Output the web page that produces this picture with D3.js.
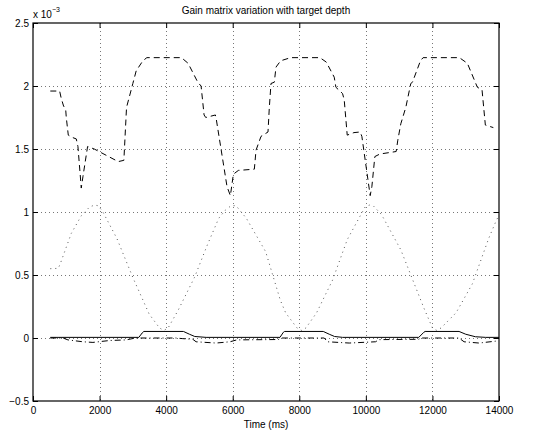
<!DOCTYPE html>
<html>
<head>
<meta charset="utf-8">
<script src="https://cdn.jsdelivr.net/npm/d3@7"></script>
<style>
  body { margin: 0; background: #fff; }
  text { font-family: "Liberation Sans", Arial, Helvetica, sans-serif; font-size: 10px; fill: #000; }
</style>
</head>
<body>
<div id="chart"></div>
<script>
// gain matrix variation - four gain terms vs time (values in units of 1e-3)

const width = 538;
const height = 436;
const margin = { top: 23, right: 39, bottom: 35, left: 33 };

const titleText = "Gain matrix variation with target depth";
const xLabelText = "Time (ms)";

const xTicks = [0, 2000, 4000, 6000, 8000, 10000, 12000, 14000];
const xTickLabels = ["0", "2000", "4000", "6000", "8000", "10000", "12000", "14000"];
const yTicks = [-0.5, 0, 0.5, 1, 1.5, 2, 2.5];
const yTickLabels = ["\u22120.5", "0", "0.5", "1", "1.5", "2", "2.5"];

// dashed curve
const dashedT = [520, 800, 850, 920, 980, 1000, 1060, 1200, 1300, 1350, 1450, 1500, 1640, 1840, 2200, 2560, 2730, 2810, 3000, 3100, 3300, 3420, 4460, 4660, 4950, 5050, 5140, 5190, 5480, 5510, 5830, 5930, 6020, 6170, 6650, 6700, 6850, 7060, 7100, 7150, 7250, 7300, 7440, 7740, 8620, 8810, 9050, 9100, 9300, 9350, 9440, 9640, 9830, 9880, 10130, 10180, 10270, 10420, 10910, 10960, 11050, 11200, 11350, 11400, 11640, 11720, 12810, 13050, 13350, 13490, 13590, 13830];
const dashedV = [1.96, 1.96, 1.90, 1.84, 1.82, 1.75, 1.61, 1.59, 1.58, 1.52, 1.19, 1.28, 1.52, 1.50, 1.45, 1.40, 1.41, 1.83, 2.02, 2.12, 2.20, 2.225, 2.225, 2.18, 2.03, 2.0, 1.77, 1.75, 1.77, 1.73, 1.20, 1.13, 1.30, 1.33, 1.34, 1.49, 1.60, 1.635, 1.83, 2.02, 2.03, 2.15, 2.20, 2.225, 2.225, 2.19, 2.07, 1.99, 1.94, 1.89, 1.61, 1.63, 1.635, 1.60, 1.13, 1.20, 1.44, 1.46, 1.48, 1.57, 1.70, 1.83, 2.02, 2.03, 2.20, 2.225, 2.225, 2.18, 1.99, 1.97, 1.69, 1.67];

// dotted curve
const dottedT = [520, 760, 820, 1150, 1450, 1700, 1850, 1950, 2080, 2520, 3000, 3490, 3800, 3930, 4060, 4360, 4850, 5240, 5580, 5780, 5950, 6100, 6410, 6990, 7430, 7590, 7930, 8070, 8200, 8520, 9000, 9440, 9790, 9980, 10100, 10220, 10470, 11050, 11740, 12000, 12130, 12260, 12710, 13200, 13690, 13930, 14000];
const dottedV = [0.55, 0.553, 0.59, 0.83, 0.97, 1.04, 1.055, 1.05, 1.01, 0.79, 0.48, 0.19, 0.08, 0.06, 0.08, 0.22, 0.48, 0.74, 0.95, 1.015, 1.05, 1.05, 0.95, 0.685, 0.30, 0.20, 0.08, 0.06, 0.08, 0.20, 0.46, 0.78, 0.95, 1.04, 1.055, 1.05, 0.98, 0.70, 0.24, 0.08, 0.06, 0.08, 0.20, 0.43, 0.79, 0.94, 0.97];

// solid curve
const solidT = [520, 3180, 3280, 3330, 4520, 4700, 4860, 5200, 7420, 7520, 7560, 8720, 8900, 9060, 9300, 11590, 11740, 11780, 12800, 13000, 13290, 13600, 14000];
const solidV = [0.005, 0.005, 0.04, 0.052, 0.052, 0.03, 0.012, 0.005, 0.005, 0.045, 0.052, 0.052, 0.03, 0.012, 0.005, 0.005, 0.045, 0.052, 0.052, 0.03, 0.01, 0.005, 0.005];

// dash-dot curve
const dashDotT = [520, 900, 1050, 1500, 1800, 2300, 2800, 3080, 4280, 4500, 4800, 4900, 5500, 5920, 6120, 7370, 7450, 8750, 8850, 9500, 10290, 10400, 11590, 11650, 12800, 12950, 13400, 13900];
const dashDotV = [0, 0, -0.015, -0.03, -0.035, -0.02, -0.015, 0, 0, -0.005, -0.01, -0.03, -0.04, -0.03, -0.015, -0.012, 0, 0, -0.03, -0.04, -0.03, -0.013, -0.01, 0, 0, -0.03, -0.04, -0.025];

const series = [
    { t: dashedT, v: dashedV, dash: "6,4", color: "#000", w: 1 },
    { t: dottedT, v: dottedV, dash: "1,4", color: "#555", w: 1 },
    { t: solidT, v: solidV, dash: null, color: "#000", w: 1 },
    { t: dashDotT, v: dashDotV, dash: "6,3,1,3", color: "#000", w: 1 }
];

const svg = d3.select("#chart")
    .append("svg")
    .attr("width", width)
    .attr("height", height);

const x = d3.scaleLinear()
    .domain([0, 14000])
    .range([margin.left, width - margin.right]);

const y = d3.scaleLinear()
    .domain([-0.5, 2.5])
    .range([height - margin.bottom, margin.top]);

// grid
const gGrid = svg.append("g").attr("class", "grid");
gGrid.selectAll(".vgrid")
    .data(xTicks.slice(1, -1))
    .enter()
    .append("line")
    .attr("x1", d => Math.round(x(d)) + 0.5)
    .attr("x2", d => Math.round(x(d)) + 0.5)
    .attr("y1", y(2.5))
    .attr("y2", y(-0.5))
    .attr("stroke", "#777")
    .attr("stroke-dasharray", "1,3");
gGrid.selectAll(".hgrid")
    .data(yTicks.slice(1, -1))
    .enter()
    .append("line")
    .attr("x1", x(0))
    .attr("x2", x(14000))
    .attr("y1", d => Math.round(y(d)) + 0.5)
    .attr("y2", d => Math.round(y(d)) + 0.5)
    .attr("stroke", "#777")
    .attr("stroke-dasharray", "1,3");

// curves
const line = d3.line()
    .x(d => x(d[0]))
    .y(d => y(d[1]));

svg.append("g").attr("class", "curves")
    .selectAll("path")
    .data(series)
    .enter()
    .append("path")
    .attr("d", s => line(s.t.map((t, i) => [t, s.v[i]])))
    .attr("fill", "none")
    .attr("stroke", s => s.color)
    .attr("stroke-width", s => s.w)
    .attr("stroke-dasharray", s => s.dash);

// axes with inward ticks
const xFmt = (d, i) => xTickLabels[i];
const yFmt = (d, i) => yTickLabels[i];

const gx = svg.append("g")
    .attr("transform", `translate(0,${y(-0.5)})`)
    .call(d3.axisBottom(x).tickValues(xTicks).tickFormat(xFmt).tickSizeInner(-5).tickSizeOuter(0).tickPadding(6));
const gxTop = svg.append("g")
    .attr("transform", `translate(0,${y(2.5)})`)
    .call(d3.axisTop(x).tickValues(xTicks).tickFormat("").tickSizeInner(-5).tickSizeOuter(0));
const gy = svg.append("g")
    .attr("transform", `translate(${x(0)},0)`)
    .call(d3.axisLeft(y).tickValues(yTicks).tickFormat(yFmt).tickSizeInner(-5).tickSizeOuter(0).tickPadding(4));
const gyRight = svg.append("g")
    .attr("transform", `translate(${x(14000)},0)`)
    .call(d3.axisRight(y).tickValues(yTicks).tickFormat("").tickSizeInner(-5).tickSizeOuter(0));

[gx, gxTop, gy, gyRight].forEach(g => {
    g.select(".domain").remove();
    g.selectAll("line").attr("stroke", "#000");
    g.selectAll("text").attr("font-size", 10).attr("font-family", null);
});

// frame
svg.append("rect")
    .attr("x", x(0))
    .attr("y", y(2.5))
    .attr("width", x(14000) - x(0))
    .attr("height", y(-0.5) - y(2.5))
    .attr("fill", "none")
    .attr("stroke", "#000")
    .attr("stroke-width", 1.2);

// texts
svg.append("text")
    .attr("x", (x(0) + x(14000)) / 2)
    .attr("y", 14)
    .attr("text-anchor", "middle")
    .text(titleText);

svg.append("text")
    .attr("x", (x(0) + x(14000)) / 2)
    .attr("y", 428)
    .attr("text-anchor", "middle")
    .text(xLabelText);

const exp = svg.append("text")
    .attr("x", x(0))
    .attr("y", 18);
exp.append("tspan").text("x 10");
exp.append("tspan").attr("dy", -6).attr("font-size", 7).text("\u22123");
</script>
</body>
</html>
